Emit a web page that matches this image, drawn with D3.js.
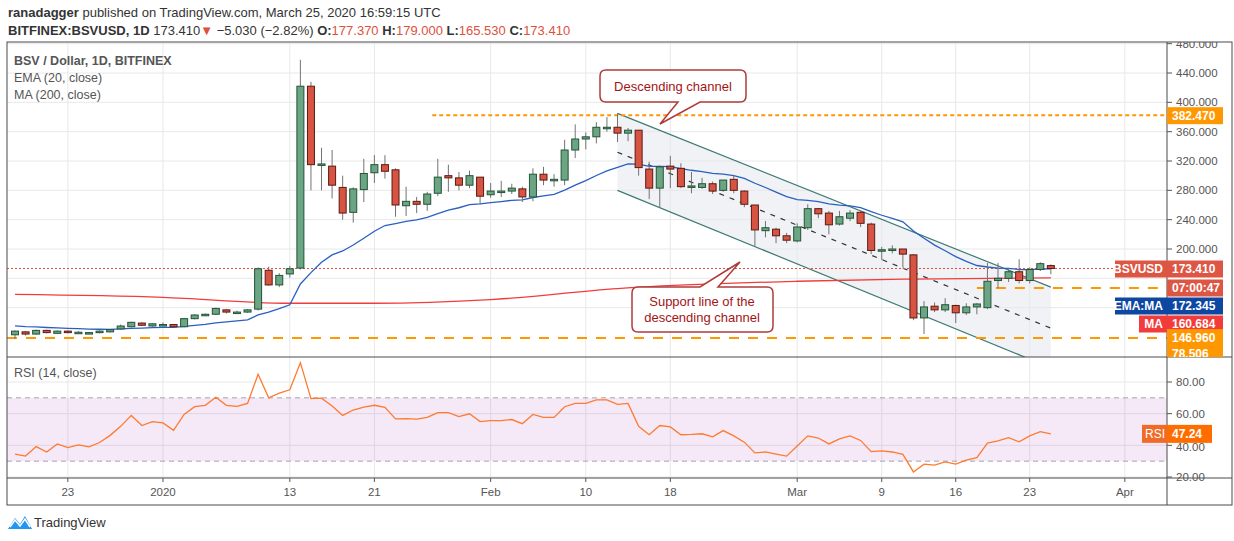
<!DOCTYPE html>
<html><head><meta charset="utf-8">
<script src="https://cdn.jsdelivr.net/npm/d3@7"></script>
<style>body{margin:0;background:#fff;font-family:"Liberation Sans",Arial,sans-serif}</style>
</head><body><svg id="c" width="1234" height="541"></svg>
<script>
// ---- data ----
const startDate = "2019-12-18";
const opens  = [83,87,84,89,85,88,86.5,86,86,87,91,94,99,95,97,97,94,105,110.5,111,117,114,114,118,171,151,166,174,422,316,313,284,250,281,304,315,308,259,265,261,276,300,297,287,298,274,279,279,282,271,302,295,294,335,350,353,366,366,358,362,309,283,313,310,286,284,289,280,295,279,260,225,227,218,211,229,255,249,234,242,250,234,199,200,200,192,106,122,117,123,113,121,120,157,160,169,157,172,177.37];
const closes = [88,84,89,86,88,86,86.5,86,88,90,95,100,96,98,97,94,105,110,111,119,114,114,117,173,151,164,173,422,315,316,287,249,282,303,315,306,260,265,261,275,298,297,287,300,272,279,279,283,271,302,294,295,335,350,353,366,366,358,362,311,283,312,309,285,286,289,279,294,280,261,226,229,218,212,230,255,248,233,244,249,235,198,199,200,193,106,121,117,124,113,121,125,156,160,169,157,172,180,173.41];
const highs  = [89,88,90,90,89,89,88,87,89,91,97,101,100,99,100,97,106,111,112,120,118,116,118,175,176,167,177,458,428,338,335,300,284,323,328,328,310,285,271,278,323,315,305,307,298,290,293,289,285,310,312,302,349,370,359,373,380,385,365,362,319,314,327,317,305,297,292,294,300,280,260,238,229,222,235,261,256,252,252,253,252,236,203,205,200,193,129,127,133,124,126,126,181,181,174,186,175,182,179];
const lows   = [77,82,83,85,84,85,85,85,85,86,90,93,95,94,95,93,93,104,109,110,112,112,113,116,150,148,161,172,280,280,269,240,236,264,290,296,244,245,249,252,272,278,280,283,261,270,271,275,264,265,287,285,287,324,336,344,360,346,347,300,268,256,283,283,276,282,275,278,276,257,204,216,208,208,209,226,242,220,232,238,230,193,185,194,175,103,84,114,114,99,110,111,118,147,155,153,153,170,165.53];
const rsiValues = [34.5,33.2,39.2,35.8,40.9,38.6,40.3,39,41.8,46.3,52,58.9,52.5,55,54.2,49.5,59.5,64.4,65.3,70.4,65.3,64.6,66.5,84.9,70,73,75.1,92.2,69.5,69.8,64.8,58.9,62.3,64.2,65.3,64,56.7,56.9,56.5,57.6,60.6,60.6,58.2,59.9,55,55.6,55.6,56.3,53.7,59.5,57.6,57.6,64.4,66.5,66.5,68.7,68.7,65.9,66.5,52,46.7,52.5,51.6,46.7,46.9,47.3,45.4,49.3,46,42,35.2,35.8,34.5,33.2,39.6,46,44.6,40.9,44.1,46,43.1,36,36.5,35.8,34.3,23.2,28.1,27.5,29.6,28.1,30.7,32.2,41.4,42.8,44.8,42.2,46,48.6,47.24];
const maDates  = ["2019-12-18","2020-01-01","2020-01-13","2020-01-21","2020-02-01","2020-02-13","2020-03-01","2020-03-12","2020-03-25"];
const maValues = [138,134,126,126,131,146,156,159,160.7];
const emaSeed = 96;
const channelDates = ["2020-02-13","2020-03-25"];
const channelUpper = [385,148];
const channelMid   = [332,92];
const channelLower = [280,38];
const resistance = 382.47, supportA = 146.96, supportB = 78.506, lastPrice = 173.41, emaLast = 172.345, maLast = 160.684, rsiLast = 47.24;
const priceTicks = [200,240,280,320,360,400,440,480];
const rsiTicks = [20,40,60,80];
const dateTicks = [["2019-12-23","23"],["2020-01-01","2020"],["2020-01-13","13"],["2020-01-21","21"],["2020-02-01","Feb"],["2020-02-10","10"],["2020-02-18","18"],["2020-03-01","Mar"],["2020-03-09","9"],["2020-03-16","16"],["2020-03-23","23"],["2020-04-01","Apr"]];

// ---- build ----
const P = d3.timeParse("%Y-%m-%d");
const d0 = P(startDate);
const candles = opens.map((o,i)=>({date:d3.timeDay.offset(d0,i),o,c:closes[i],h:highs[i],l:lows[i]}));
let e = emaSeed; const ema = closes.map(c=>(e = e + (c-e)*2/21));
const svg = d3.select("#c");
const L=7, R=1167, T=42, MB=357, RT=358, RB=478;
const x = d3.scaleTime().domain([d0, P("2020-04-01")]).range([15, 15+105*10.57]);
const y = d3.scaleLinear().domain([200,480]).range([249, 249-280*0.7333]);
const yr = d3.scaleLinear().domain([20,80]).range([477,382]);

svg.append("defs").html(`<clipPath id="mc"><rect x="${L}" y="${T}" width="${R-L}" height="${MB-T}"/></clipPath>
<clipPath id="rc"><rect x="${L}" y="${RT}" width="${R-L}" height="${RB-RT}"/></clipPath>`);

const g = svg.append("g").attr("stroke","#e8e8e8");
dateTicks.forEach(([d])=>{g.append("line").attr("x1",x(P(d))).attr("x2",x(P(d))).attr("y1",T).attr("y2",RB);});
priceTicks.forEach(p=>g.append("line").attr("x1",L).attr("x2",R).attr("y1",y(p)).attr("y2",y(p)));
[120,160].forEach(p=>g.append("line").attr("x1",L).attr("x2",R).attr("y1",y(p)).attr("y2",y(p)));
rsiTicks.forEach(p=>g.append("line").attr("x1",L).attr("x2",R).attr("y1",yr(p)).attr("y2",yr(p)));

const m = svg.append("g").attr("clip-path","url(#mc)");
const cd = channelDates.map(P);
m.append("path").attr("fill","#e4e7ec").attr("opacity",0.55)
 .attr("d",`M${x(cd[0])},${y(channelUpper[0])}L${x(cd[1])},${y(channelUpper[1])}L${x(cd[1])},${y(channelLower[1])}L${x(cd[0])},${y(channelLower[0])}Z`);
[channelUpper,channelLower].forEach(a=>m.append("line").attr("x1",x(cd[0])).attr("y1",y(a[0])).attr("x2",x(cd[1])).attr("y2",y(a[1])).attr("stroke","#3d7a75").attr("stroke-width",1.2));
m.append("line").attr("x1",x(cd[0])).attr("y1",y(channelMid[0])).attr("x2",x(cd[1])).attr("y2",y(channelMid[1])).attr("stroke","#333").attr("stroke-width",1.2).attr("stroke-dasharray","5,6");

m.append("line").attr("x1",x(P("2020-01-26"))+5).attr("x2",R).attr("y1",y(resistance)).attr("y2",y(resistance)).attr("stroke","#ff9800").attr("stroke-width",2).attr("stroke-dasharray","4,3");
m.append("line").attr("x1",x(P("2020-03-18"))).attr("x2",R).attr("y1",y(supportA)).attr("y2",y(supportA)).attr("stroke","#ff9800").attr("stroke-width",2).attr("stroke-dasharray","10,9");
m.append("line").attr("x1",L).attr("x2",R).attr("y1",y(supportB)).attr("y2",y(supportB)).attr("stroke","#ff9800").attr("stroke-width",2).attr("stroke-dasharray","10,9");
m.append("line").attr("x1",L).attr("x2",R).attr("y1",y(lastPrice)).attr("y2",y(lastPrice)).attr("stroke","#e0503c").attr("stroke-dasharray","2,2");

m.append("path").datum(maDates.map((d,i)=>[P(d),maValues[i]])).attr("fill","none").attr("stroke","#f23c3c").attr("stroke-width",1.3)
 .attr("d",d3.line().x(d=>x(d[0])).y(d=>y(d[1])).curve(d3.curveMonotoneX));
m.append("path").datum(candles.map((c,i)=>[c.date,ema[i]])).attr("fill","none").attr("stroke","#2a5fc2").attr("stroke-width",1.3)
 .attr("d",d3.line().x(d=>x(d[0])).y(d=>y(d[1])));

const cg = m.selectAll(".cd").data(candles).join("g");
cg.append("line").attr("x1",d=>x(d.date)).attr("x2",d=>x(d.date)).attr("y1",d=>y(d.h)).attr("y2",d=>y(d.l)).attr("stroke","#737375");
cg.append("rect").attr("x",d=>x(d.date)-3.5).attr("width",7)
 .attr("y",d=>y(Math.max(d.o,d.c))).attr("height",d=>Math.max(1.5,Math.abs(y(d.o)-y(d.c))))
 .attr("fill",d=>d.c>=d.o?"#6ba583":"#d75442").attr("stroke",d=>d.c>=d.o?"#225437":"#5b1a13");

const r = svg.append("g").attr("clip-path","url(#rc)");
r.append("rect").attr("x",L).attr("width",R-L).attr("y",yr(70)).attr("height",yr(30)-yr(70)).attr("fill","#9c27b0").attr("opacity",0.1);
[70,30].forEach(v=>r.append("line").attr("x1",L).attr("x2",R).attr("y1",yr(v)).attr("y2",yr(v)).attr("stroke","#a9a0b4").attr("stroke-dasharray","5,4"));
r.append("path").datum(rsiValues).attr("fill","none").attr("stroke","#ff7a2e").attr("stroke-width",1.3)
 .attr("d",d3.line().x((d,i)=>x(candles[i].date)).y(d=>yr(d)));

const f = svg.append("g").attr("stroke","#4a4a4a").attr("fill","none");
f.append("rect").attr("x",L).attr("y",T).attr("width",1232-L).attr("height",505-T);
f.append("line").attr("x1",R).attr("x2",R).attr("y1",T).attr("y2",505);
f.append("line").attr("x1",L).attr("x2",1232).attr("y1",MB).attr("y2",MB);
f.append("line").attr("x1",L).attr("x2",1232).attr("y1",RB).attr("y2",RB);

const ax = svg.append("g").attr("font-size",11.5).attr("fill","#555");
const pa = svg.append("g").attr("clip-path","url(#pc)");
svg.select("defs").append("clipPath").attr("id","pc").append("rect").attr("x",R).attr("y",T).attr("width",70).attr("height",MB-T);
priceTicks.forEach(p=>{pa.append("line").attr("x1",R).attr("x2",R+5).attr("y1",y(p)).attr("y2",y(p)).attr("stroke","#555");
 pa.append("text").attr("x",R+9).attr("y",y(p)+4).attr("font-size",11.5).attr("fill","#555").text(p.toFixed(3));});
rsiTicks.forEach(p=>{ax.append("line").attr("x1",R).attr("x2",R+5).attr("y1",yr(p)).attr("y2",yr(p)).attr("stroke","#555");
 ax.append("text").attr("x",R+9).attr("y",yr(p)+(p===40?6:4)).text(p.toFixed(2));});
dateTicks.forEach(([d,t])=>{ax.append("line").attr("x1",x(P(d))).attr("x2",x(P(d))).attr("y1",RB).attr("y2",RB+4).attr("stroke","#555");
 ax.append("text").attr("x",x(P(d))).attr("y",RB+18).attr("text-anchor","middle").text(t);});

function tag(yy,txt,col,left,lw){
 pa.append("rect").attr("x",R).attr("y",yy-8).attr("width",56).attr("height",17).attr("fill",col);
 pa.append("text").attr("x",R+5).attr("y",yy+4.5).attr("fill","#fff").attr("font-size",12).attr("font-weight","bold").text(txt);
 if(left){svg.append("rect").attr("x",R-lw).attr("y",yy-8).attr("width",lw).attr("height",17).attr("fill",col);
  svg.append("text").attr("x",R-4).attr("y",yy+4.5).attr("text-anchor","end").attr("fill","#fff").attr("font-size",12).attr("font-weight","bold").text(left);}
}
tag(y(resistance),resistance.toFixed(3),"#ff9800");
tag(y(lastPrice),lastPrice.toFixed(3),"#dd5644","BSVUSD",52);
tag(y(lastPrice)+19,"07:00:47","#dd5644");
tag(y(lastPrice)+37,emaLast.toFixed(3),"#0d47a1","EMA:MA",52);
tag(y(lastPrice)+55,maLast.toFixed(3),"#f23c3c","MA",28);
tag(y(supportB)-1,supportA.toFixed(3),"#ff9800");
tag(y(supportB)+15,supportB.toFixed(3),"#ff9800");
svg.append("rect").attr("x",R-25).attr("y",yr(rsiLast)-9).attr("width",25).attr("height",18).attr("fill","#f06a28");
svg.append("text").attr("x",R-12).attr("y",yr(rsiLast)+4).attr("text-anchor","middle").attr("fill","#fff").attr("font-size",12).text("RSI");
svg.append("rect").attr("x",R).attr("y",yr(rsiLast)-9).attr("width",45).attr("height",18).attr("fill","#ff6d00");
svg.append("text").attr("x",R+5).attr("y",yr(rsiLast)+4).attr("fill","#fff").attr("font-size",12).attr("font-weight","bold").text(rsiLast.toFixed(2));

const lg = svg.append("g").attr("fill","#555").attr("font-size",12.5);
lg.append("text").attr("x",14).attr("y",65).attr("font-weight","bold").text("BSV / Dollar, 1D, BITFINEX");
lg.append("text").attr("x",14).attr("y",82).text("EMA (20, close)");
lg.append("text").attr("x",14).attr("y",99).text("MA (200, close)");
lg.append("text").attr("x",14).attr("y",377).text("RSI (14, close)");

const h1 = svg.append("text").attr("x",8).attr("y",17).attr("font-size",13).attr("fill","#333");
h1.append("tspan").attr("font-weight","bold").text("ranadagger");
h1.append("tspan").text(" published on TradingView.com, March 25, 2020 16:59:15 UTC");
const h2 = svg.append("text").attr("x",8).attr("y",35).attr("font-size",13).attr("fill","#333");
h2.append("tspan").attr("font-weight","bold").text("BITFINEX:BSVUSD, 1D");
h2.append("tspan").text(" 173.410");
h2.append("tspan").attr("fill","#e0503c").text("▼");
h2.append("tspan").text(" −5.030 (−2.82%) ");
[["O:","177.370"],["H:","179.000"],["L:","165.530"],["C:","173.410"]].forEach(([a,b])=>{
 h2.append("tspan").attr("font-weight","bold").text(a); h2.append("tspan").attr("fill","#e0503c").text(b+" ");});

const cs = svg.append("g").attr("fill","#fff").attr("stroke","#b03a3a").attr("stroke-width",1.5);
cs.append("path").attr("d","M606,70 H740 Q746,70 746,76 V96 Q746,102 740,102 H700 L660,124 L678,102 H606 Q600,102 600,96 V76 Q600,70 606,70Z");
cs.append("path").attr("d","M638,287 H700 L740,262 L718,287 H767 Q773,287 773,293 V326 Q773,332 767,332 H638 Q632,332 632,326 V293 Q632,287 638,287Z");
const ct = svg.append("g").attr("fill","#a31515").attr("font-size",13).attr("text-anchor","middle");
ct.append("text").attr("x",673).attr("y",91).text("Descending channel");
ct.append("text").attr("x",702).attr("y",306).text("Support line of the");
ct.append("text").attr("x",702).attr("y",322).text("descending channel");

svg.append("path").attr("d","M8,529 L15,518 L20,524 L25,516 L32,529Z").attr("fill","#2196f3");
svg.append("path").attr("d","M10,527 L15,520 L20,526 L25,519 L30,527").attr("fill","none").attr("stroke","#fff").attr("stroke-width",1.5);
svg.append("text").attr("x",34).attr("y",527).attr("font-size",13).attr("fill","#333").text("TradingView");
</script></body></html>
